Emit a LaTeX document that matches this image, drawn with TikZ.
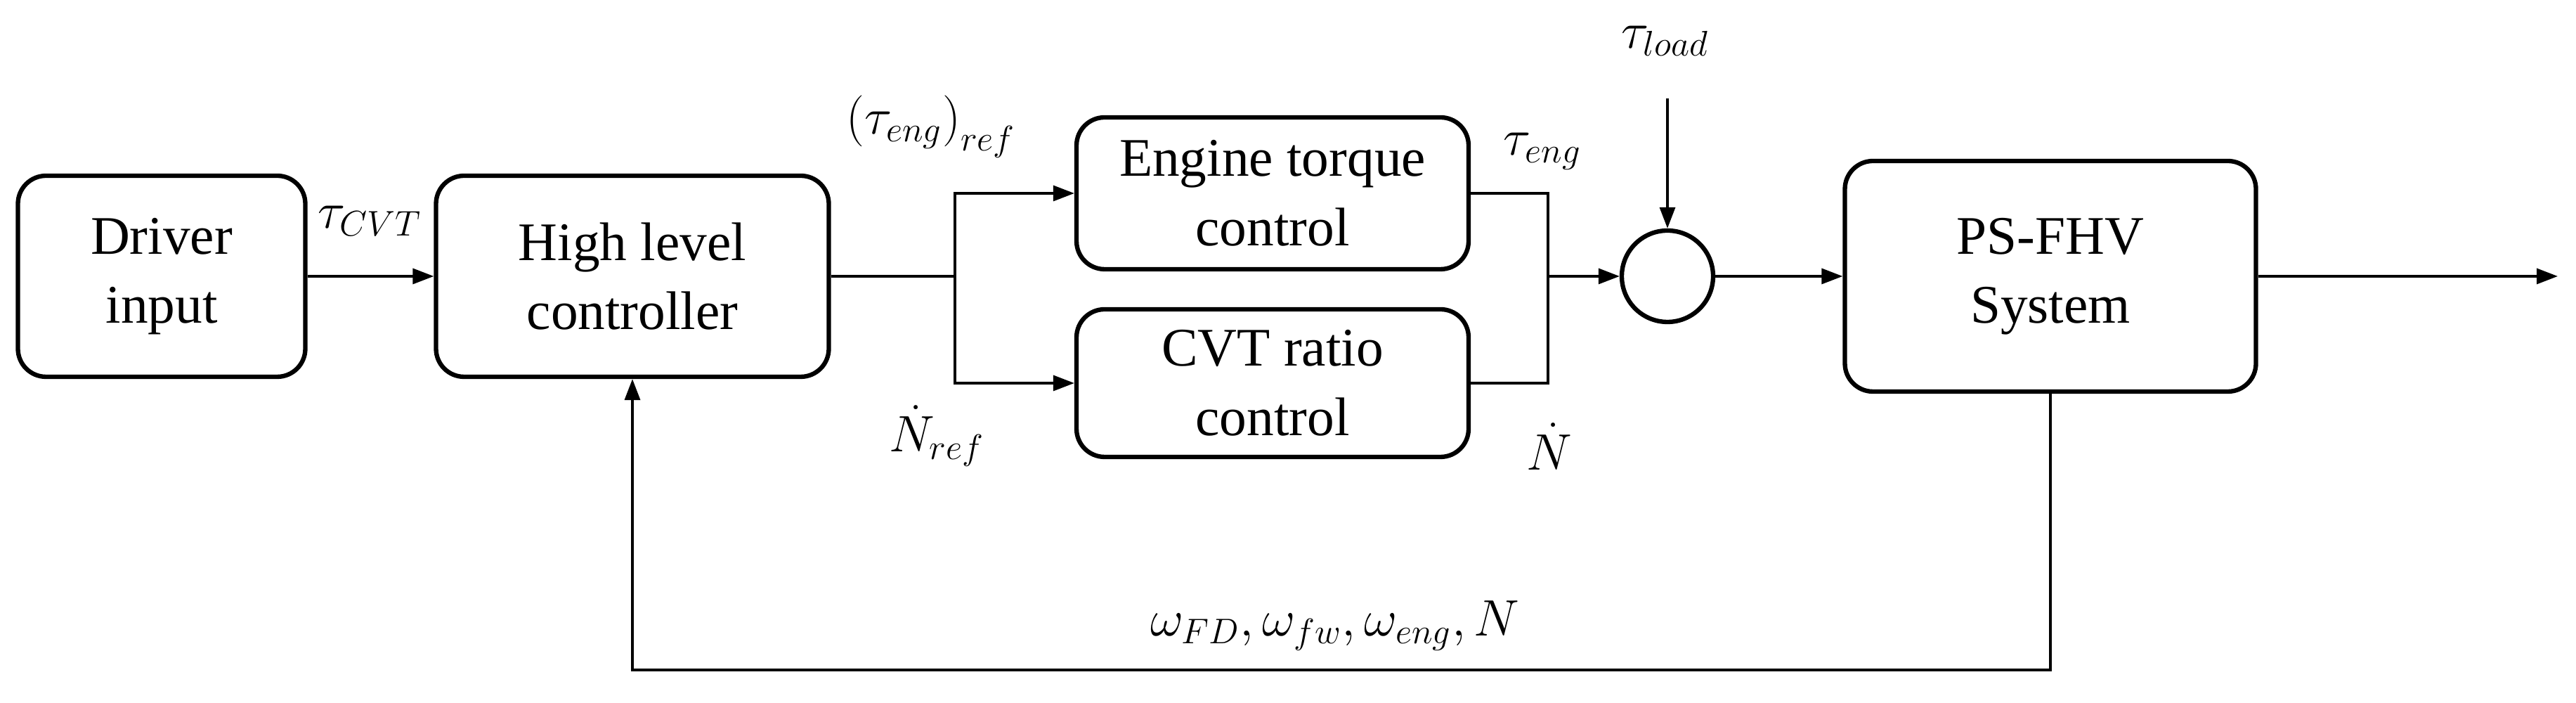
\documentclass[tikz,border=0pt]{standalone}
\usepackage{fontspec}
\setmainfont{Liberation Serif}
\usetikzlibrary{arrows.meta}
\begin{document}
\begin{tikzpicture}[
  blk/.style={draw, line width=1.8pt, rounded corners=0.4cm, align=center, inner sep=0pt, font=\fontsize{22}{28}\selectfont},
  con/.style={line width=1pt, -{Triangle[length=0.3cm,width=0.22cm]}},
  ln/.style={line width=1pt},
  lab/.style={font=\fontsize{21}{25}\selectfont, inner sep=1pt}
]
\useasboundingbox (0,0) rectangle (36.66,10);
\node[blk, minimum width=4.09cm, minimum height=2.86cm] (drv) at (2.30,6.07) {Driver\\input};
\node[blk, minimum width=5.59cm, minimum height=2.86cm] (hlc) at (9.00,6.07) {High level\\controller};
\node[blk, minimum width=5.58cm, minimum height=2.16cm] (eng) at (18.11,7.25) {Engine torque\\control};
\node[blk, minimum width=5.58cm, minimum height=2.10cm] (cvt) at (18.11,4.55) {CVT ratio\\control};
\node[draw, circle, line width=1.8pt, minimum size=1.3cm, inner sep=0pt] (sum) at (23.73,6.07) {};
\node[blk, minimum width=5.85cm, minimum height=3.28cm] (ps) at (29.18,6.07) {PS-FHV\\System};
\coordinate (split) at (13.59,6.07);
\coordinate (merge) at (22.03,6.07);
\coordinate (load) at (23.73,8.60);
\coordinate (out) at (36.40,6.07);
\coordinate (fb) at (9.00,0.47);

\draw[con] (drv) -- (hlc);
\draw[ln] (hlc.east) -- (split);
\draw[con] (split) |- (eng.west);
\draw[con] (split) |- (cvt.west);
\draw[ln] (eng.east) -| (merge);
\draw[ln] (cvt.east) -| (merge);
\draw[con] (merge) -- (sum.west);
\draw[con] (load) -- (sum.north);
\draw[con] (sum.east) -- (ps.west);
\draw[con] (ps.east) -- (out);
\draw[con] (ps.south) |- (fb) -- (hlc.south);

\node[lab] (l1) at (5.26,6.86) {$\tau_{CVT}$};
\node[lab] (l2) at (13.25,8.20) {$\left(\tau_{eng}\right)_{ref}$};
\node[lab] (l3) at (13.33,3.80) {$\dot N_{ref}$};
\node[lab] (l4) at (21.95,7.85) {$\tau_{eng}$};
\node[lab] (l5) at (22.05,3.65) {$\dot N$};
\node[lab] (l6) at (23.70,9.42) {$\tau_{load}$};
\node[lab] (l7) at (19.00,1.10) {$\omega_{FD},\omega_{fw},\omega_{eng},N$};
\end{tikzpicture}
\end{document}
